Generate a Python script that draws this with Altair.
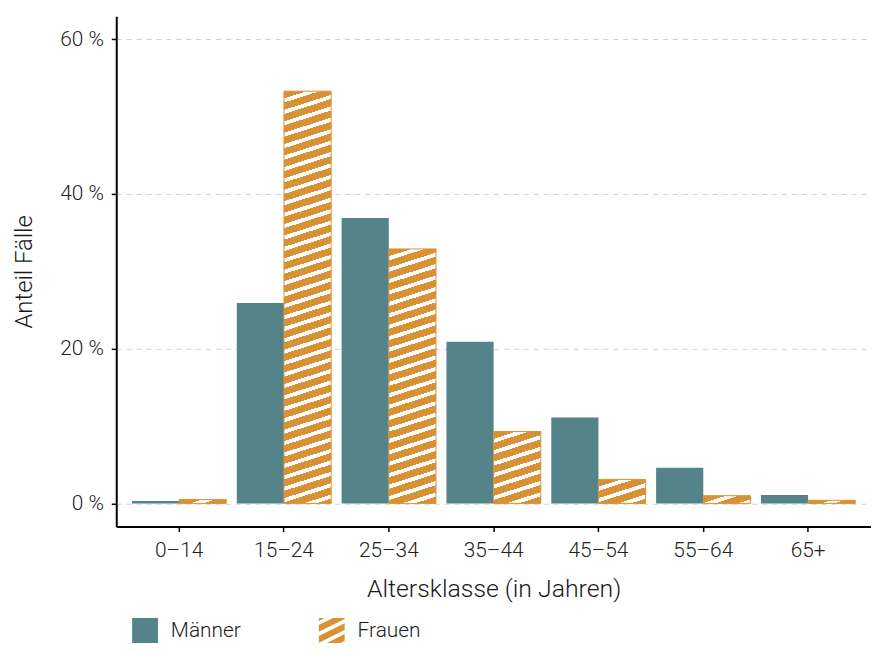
import altair as alt
import pandas as pd

# ---------------- data ----------------
ages = ["0–14", "15–24", "25–34", "35–44", "45–54", "55–64", "65+"]
series = ["Männer", "Frauen"]
maenner = [0.3, 25.9, 36.9, 20.9, 11.1, 4.6, 1.1]
frauen = [0.5, 53.3, 32.9, 9.3, 3.1, 1.0, 0.4]
y_ticks = [0, 20, 40, 60]

# ---------------- style ----------------
TEAL = "#54838a"
ORANGE = "#d99136"
WHITE = "#ffffff"
FONT = "Roboto"
FW = 300
W, H = 760, 514
Y_DOMAIN = [-3, 63]
PAD_INNER, PAD_OUTER = 0.1, 0.15

rows = []
for a, m, f in zip(ages, maenner, frauen):
    rows.append({"age": a, "sex": "Männer", "value": m})
    rows.append({"age": a, "sex": "Frauen", "value": f})
df = pd.DataFrame(rows)

step = W / (len(ages) - PAD_INNER + 2 * PAD_OUTER)
bar_w = step * (1 - PAD_INNER) / 2
px_per_unit = H / (Y_DOMAIN[1] - Y_DOMAIN[0])

SLOPE = 0.32       # stripe slope (rise per px)
PERIOD = 11.5      # vertical stripe period in px
ORANGE_FRAC = 0.64


def stripe_gradient(w, h):
    h = max(h, 0.5)
    span = SLOPE * w + h
    n = span / PERIOD
    k = span / ((SLOPE * w) ** 2 + h ** 2)
    x2 = SLOPE * w * k
    y2 = h * k
    stops = []
    j = 0
    while True:
        a = j / n
        b = (j + ORANGE_FRAC) / n
        c = (j + 1) / n
        stops.append({"offset": round(min(a, 1), 5), "color": ORANGE})
        if b >= 1:
            stops.append({"offset": 1, "color": ORANGE})
            break
        stops.append({"offset": round(b, 5), "color": ORANGE})
        stops.append({"offset": round(b, 5), "color": WHITE})
        if c >= 1:
            stops.append({"offset": 1, "color": WHITE})
            break
        stops.append({"offset": round(c, 5), "color": WHITE})
        j += 1
    return {"gradient": "linear", "x1": 0, "y1": 0, "x2": x2, "y2": y2, "stops": stops}


def clip(poly, a, b, c, keep_ge):
    out = []
    n = len(poly)
    for i in range(n):
        P = poly[i]
        Q = poly[(i + 1) % n]
        fp = a * P[0] + b * P[1] - c
        fq = a * Q[0] + b * Q[1] - c
        if not keep_ge:
            fp, fq = -fp, -fq
        if fp >= 0:
            out.append(P)
        if (fp >= 0) != (fq >= 0):
            t = fp / (fp - fq)
            out.append((P[0] + t * (Q[0] - P[0]), P[1] + t * (Q[1] - P[1])))
    return out


def hatch_path(slope=0.5, period=0.85, frac=0.62):
    square = [(-1, -1), (1, -1), (1, 1), (-1, 1)]
    lo = -(slope + 1)
    hi = slope + 1
    parts = []
    c0 = lo - 0.3
    while c0 < hi:
        poly = clip(square, slope, 1, c0, True)
        poly = clip(poly, slope, 1, c0 + frac * period, False)
        if len(poly) >= 3:
            parts.append("M" + "L".join(f"{x:.3f},{y:.3f}" for x, y in poly) + "Z")
        c0 += period
    return "".join(parts)


HATCH = hatch_path()

base = alt.Chart(df)

x_enc = alt.X(
    "age:N",
    sort=ages,
    scale=alt.Scale(domain=ages, paddingInner=PAD_INNER, paddingOuter=PAD_OUTER),
    axis=alt.Axis(
        title="Altersklasse (in Jahren)",
        labelAngle=0,
        grid=False,
        domainColor="black",
        domainWidth=2,
        tickColor="black",
        tickWidth=1.5,
        tickSize=5,
        labelFontSize=21,
        labelPadding=8,
        labelColor="#222222",
        titleFontSize=25,
        titlePadding=16,
        titleColor="#1a1a1a",
    ),
)
xoff_enc = alt.XOffset("sex:N", scale=alt.Scale(domain=series, paddingInner=0, paddingOuter=0))
y_enc = alt.Y(
    "value:Q",
    scale=alt.Scale(domain=Y_DOMAIN, nice=False, zero=False),
    axis=alt.Axis(
        title="Anteil Fälle",
        values=y_ticks,
        labelExpr="datum.value + ' %'",
        grid=True,
        gridDash=[5, 5],
        gridColor="#cfcfcf",
        gridWidth=1,
        domainColor="black",
        domainWidth=2,
        tickColor="black",
        tickWidth=1.5,
        tickSize=5,
        labelFontSize=21,
        labelPadding=8,
        labelColor="#222222",
        titleFontSize=24,
        titlePadding=23,
        titleColor="#1a1a1a",
    ),
)
y2_enc = alt.Y2(datum=0)

layers = []
men = base.transform_filter(alt.datum.sex == "Männer").mark_bar(color=TEAL).encode(
    x=x_enc, xOffset=xoff_enc, y=y_enc, y2=y2_enc
)
layers.append(men)

for a, f in zip(ages, frauen):
    grad = stripe_gradient(bar_w, f * px_per_unit)
    lay = (
        base.transform_filter((alt.datum.sex == "Frauen") & (alt.datum.age == a))
        .mark_bar(fill=grad, stroke=ORANGE, strokeWidth=1)
        .encode(x=x_enc, xOffset=xoff_enc, y=y_enc, y2=y2_enc)
    )
    layers.append(lay)

legend_props = dict(
    title=None,
    orient="none",
    legendX=16,
    legendY=606,
    direction="horizontal",
    symbolSize=26 * 26,
    symbolStrokeWidth=0,
    symbolOpacity=1,
    labelFontSize=21,
    labelOffset=13,
    labelColor="#1a1a1a",
    columnPadding=78,
    padding=0,
)
legend_layer = (
    base.transform_filter("false")
    .mark_point(filled=True, opacity=1)
    .encode(
        fill=alt.Fill(
            "sex:N",
            scale=alt.Scale(domain=series, range=[TEAL, ORANGE]),
            legend=alt.Legend(**legend_props),
        ),
        shape=alt.Shape(
            "sex:N",
            scale=alt.Scale(domain=series, range=["square", HATCH]),
            legend=alt.Legend(**legend_props),
        ),
    )
)
layers.append(legend_layer)

chart = (
    alt.layer(*layers)
    .properties(
        width=W,
        height=H,
        autosize=alt.AutoSizeParams(type="none"),
        padding={"left": 109, "top": 6, "right": 0, "bottom": 115},
    )
    .configure(font=FONT)
    .configure_view(stroke=None)
    .configure_axis(labelFont=FONT, titleFont=FONT, titleFontWeight=FW, labelFontWeight=FW)
    .configure_legend(labelFont=FONT, labelFontWeight=FW)
)

chart.save("out.html", embed_options={"renderer": "svg", "actions": False})
